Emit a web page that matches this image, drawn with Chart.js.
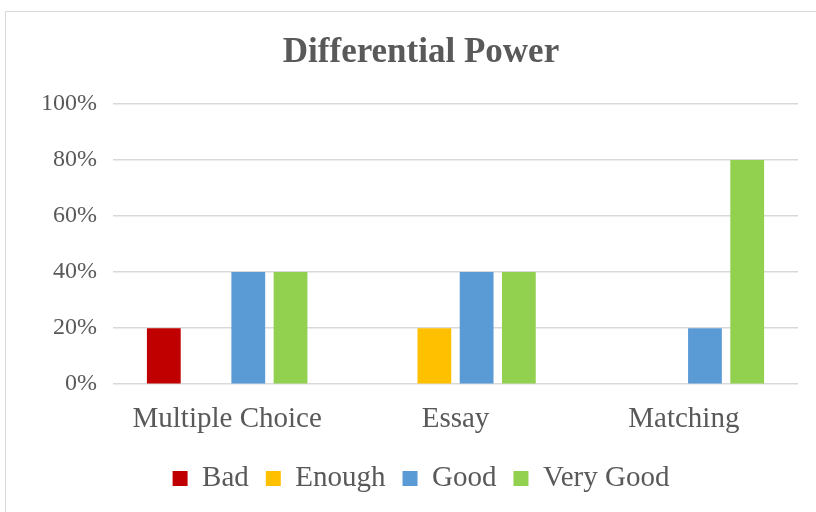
<!DOCTYPE html>
<html>
<head>
<meta charset="utf-8">
<script src="https://cdn.jsdelivr.net/npm/chart.js@4/dist/chart.umd.min.js"></script>
<style>
  html, body { margin: 0; padding: 0; background: #fff; overflow: hidden; }
  #frame {
    position: absolute; left: 5px; top: 11px;
    width: 830px; height: 520px;
    border: 1px solid #d9d9d9; background: #fff;
  }
  #chart { display: block; }
</style>
</head>
<body>
<div id="frame"><canvas id="chart" width="830" height="520"></canvas></div>
<script>
const categories = ["Multiple Choice", "Essay", "Matching"];
const bad = [20, 0, 0];
const enough = [0, 20, 0];
const good = [40, 40, 20];
const veryGood = [40, 40, 80];
const yTicks = [0, 20, 40, 60, 80, 100];

const textColor = "#595959";
const serif = "'Liberation Serif', 'DejaVu Serif', serif";

function series(label, data, color) {
  return {
    label, data,
    backgroundColor: color,
    borderWidth: 0,
    categoryPercentage: 0.74,
    barPercentage: 0.8
  };
}

new Chart(document.getElementById("chart"), {
  type: "bar",
  data: {
    labels: categories,
    datasets: [
      series("Bad", bad, "#C00000"),
      series("Enough", enough, "#FFC000"),
      series("Good", good, "#5B9BD5"),
      series("Very Good", veryGood, "#92D050"),
    ]
  },
  options: {
    responsive: false,
    animation: false,
    layout: { padding: { left: 0, right: 0, top: 16, bottom: 29 } },
    scales: {
      x: {
        grid: { display: false },
        border: { display: false },
        ticks: { color: textColor, font: { family: serif, size: 29 }, padding: 10 }
      },
      y: {
        min: 0, max: 100,
        afterBuildTicks: (s) => { s.ticks = yTicks.map(v => ({ value: v })); },
        afterFit: (s) => { s.width = 107; },
        grid: { color: "#d9d9d9", lineWidth: 1.5, drawTicks: false },
        border: { display: false },
        ticks: {
          color: textColor, font: { family: serif, size: 24 }, padding: 16,
          callback: (v) => v + "%"
        }
      },
      // empty right margin so the legend centres on the whole frame
      gap: {
        position: "right", min: 0, max: 100,
        afterFit: (s) => { s.width = 38; },
        grid: { display: false }, border: { display: false },
        ticks: { display: false }
      }
    },
    plugins: {
      title: {
        display: true, text: "Differential Power", color: textColor,
        font: { family: serif, size: 35, weight: "bold" },
        padding: { top: 4, bottom: 30 }
      },
      legend: {
        position: "bottom",
        labels: {
          color: textColor, font: { family: serif, size: 29 },
          boxWidth: 15, boxHeight: 15, padding: 17
        }
      },
      tooltip: { enabled: false }
    }
  }
});
</script>
</body>
</html>
